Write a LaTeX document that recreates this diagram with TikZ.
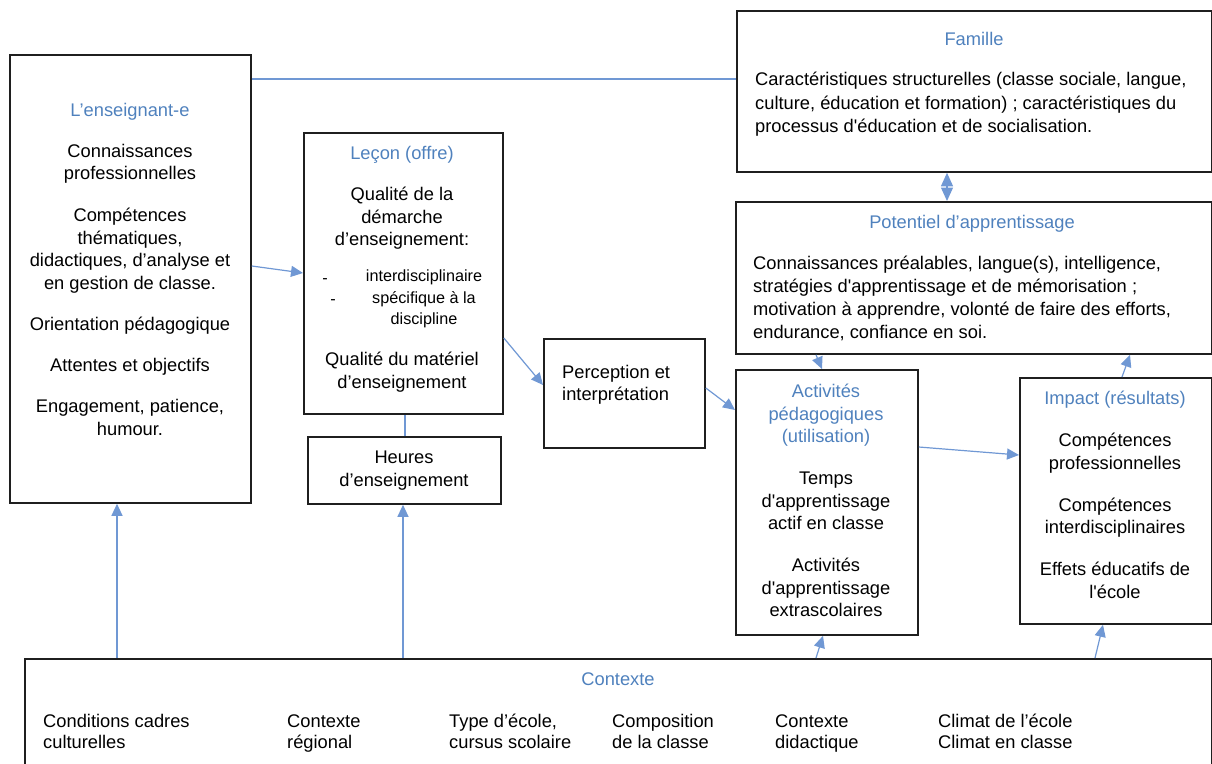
\documentclass[tikz,border=0pt]{standalone}
\usepackage{fontspec}
\newfontfamily\arial{Liberation Sans}
\usepackage{tikz}
\usetikzlibrary{positioning, calc, arrows.meta}
\definecolor{bleutitre}{RGB}{79,129,189}
\definecolor{bleufleche}{RGB}{112,152,212}

\begin{document}
\begin{tikzpicture}[x=1pt,y=-1pt]
		
		\tikzset{boite/.style={
				draw=black!88, line width=1.8pt,
				anchor=north west, inner sep=0pt
			},
			texte/.style={
				font=\arial\fontsize{18.3}{22.5}\selectfont,
				align=center, anchor=north, inner sep=0pt
			},
			titre/.style={texte, text=bleutitre},
			petit/.style={texte, font=\arial\fontsize{16.2}{21.5}\selectfont},
			fleche/.style={draw=bleufleche, line width=1.2pt,
				-{Triangle[length=12pt,width=11pt]}},
			lien/.style={draw=bleufleche, line width=1.2pt}
		}
		
		\useasboundingbox (0,0) rectangle (1212,763);
		\clip (0,0) rectangle (1212,763);
		
		% boites
		\node[boite, minimum width=241pt, minimum height=448pt] (ens) at (9,54) {};
		\node[boite, minimum width=199pt, minimum height=281pt] (lec) at (303,132) {};
		\node[boite, minimum width=193pt, minimum height=67pt] (heu) at (307,436) {};
		\node[boite, minimum width=161pt, minimum height=109pt] (per) at (543,338) {};
		\node[boite, minimum width=475pt, minimum height=161pt] (fam) at (736,10) {};
		\node[boite, minimum width=476pt, minimum height=152pt] (pot) at (735,201) {};
		\node[boite, minimum width=182pt, minimum height=265pt] (act) at (735,369) {};
		\node[boite, minimum width=192pt, minimum height=246pt] (imp) at (1019,377) {};
		\node[boite, minimum width=1187pt, minimum height=200pt] (ctx) at (24,658) {};
		
		% textes
		\node[titre] (ensT) at (130,103) {L’enseignant-e};
		\node[texte] (ensB) at (130,144) {Connaissances\\professionnelles\\[19.5pt]
			Compétences\\thématiques,\\didactiques, d’analyse et\\en gestion de classe.\\[19pt]
			Orientation pédagogique\\[18pt]Attentes et objectifs\\[19pt]
			Engagement, patience,\\humour.};
		
		\node[titre] (lecT) at (402,146) {Leçon (offre)};
		\node[texte] (lecB) at (402,187) {Qualité de la\\démarche\\d’enseignement:};
		\node[petit, anchor=base] (tiret1) at (325,283) {-};
		\node[petit, anchor=base] (tiret2) at (333,304) {-};
		\node[petit] (lecL) at (424,270) {interdisciplinaire\\spécifique à la\\discipline};
		\node[texte] (lecM) at (402,352) {Qualité du matériel\\d’enseignement};
		
		\node[texte] (heuB) at (404,451) {Heures\\d’enseignement};
		
		\node[texte, align=left, anchor=north west] (perB) at (562,365) {Perception et\\interprétation};
		
		\node[titre] (famT) at (974,32) {Famille};
		\node[texte, align=left, anchor=north west,
			font=\arial\fontsize{18.3}{23.5}\selectfont] (famB) at (755,72)
			{Caractéristiques structurelles (classe sociale, langue,\\
			culture, éducation et formation) ; caractéristiques du\\
			processus d'éducation et de socialisation.};
		
		\node[titre] (potT) at (972,215) {Potentiel d’apprentissage};
		\node[texte, align=left, anchor=north west,
			font=\arial\fontsize{18.3}{23}\selectfont] (potB) at (753,256)
			{Connaissances préalables, langue(s), intelligence,\\
			stratégies d'apprentissage et de mémorisation ;\\
			motivation à apprendre, volonté de faire des efforts,\\
			endurance, confiance en soi.};
		
		\node[titre] (actT) at (826,384) {Activités\\pédagogiques\\(utilisation)};
		\node[texte] (actB) at (826,472) {Temps\\d'apprentissage\\actif en classe\\[19.5pt]
			Activités\\d'apprentissage\\extrascolaires};
		
		\node[titre] (impT) at (1115,391) {Impact (résultats)};
		\node[texte] (impB) at (1115,433) {Compétences\\professionnelles\\[19.5pt]
			Compétences\\interdisciplinaires\\[19.5pt]Effets éducatifs de\\l'école};
		
		\node[titre] (ctxT) at (618,673) {Contexte};
		\foreach \x/\t [count=\i] in {43/{Conditions cadres\\culturelles},
				287/{Contexte\\régional}, 449/{Type d’école,\\cursus scolaire},
				612/{Composition\\de la classe}, 775/{Contexte\\didactique},
				938/{Climat de l’école\\Climat en classe}}
			\node[texte, align=left, anchor=north west,
				font=\arial\fontsize{18.3}{21}\selectfont] (ctx\i) at (\x,714) {\rule{0pt}{13.5pt}\t};
		
		% fleches
		\draw[lien] ($(ens.north east)+(0,25)$) -- ($(fam.north west)+(0,69)$);
		\draw[fleche] ($(ens.north east)+(0,212)$) -- ($(lec.north west)+(0,141)$);
		\draw[fleche] ($(lec.north east)+(0,206)$) -- ($(per.north west)+(0,47)$);
		\draw[fleche] ($(per.north east)+(0,50)$) -- ($(act.north west)+(0,41)$);
		\draw[lien, {Triangle[length=13.5pt,width=12pt]}-{Triangle[length=13.5pt,width=12pt]}]
			($(fam.south west)+(211,0)$) -- ($(pot.north west)+(212,0)$);
		\draw[fleche] ($(pot.south west)+(81,0)$) -- ($(act.north west)+(87,0)$);
		\draw[fleche] ($(act.north east)+(0,78)$) -- ($(imp.north west)+(0,78)$);
		\draw[fleche] ($(imp.north west)+(103,0)$) -- ($(pot.south west)+(395,0)$);
		\draw[lien] ($(heu.north west)+(98,0)$) -- ($(lec.south west)+(102,0)$);
		\draw[fleche] ($(ctx.north west)+(93,0)$) -- ($(ens.south west)+(108,0)$);
		\draw[fleche] ($(ctx.north west)+(379,0)$) -- ($(heu.south west)+(96,0)$);
		\draw[fleche] ($(ctx.north west)+(792,0)$) -- ($(act.south west)+(88,0)$);
		\draw[fleche] ($(ctx.north west)+(1071,0)$) -- ($(imp.south west)+(84,0)$);
		
\end{tikzpicture}
\end{document}
